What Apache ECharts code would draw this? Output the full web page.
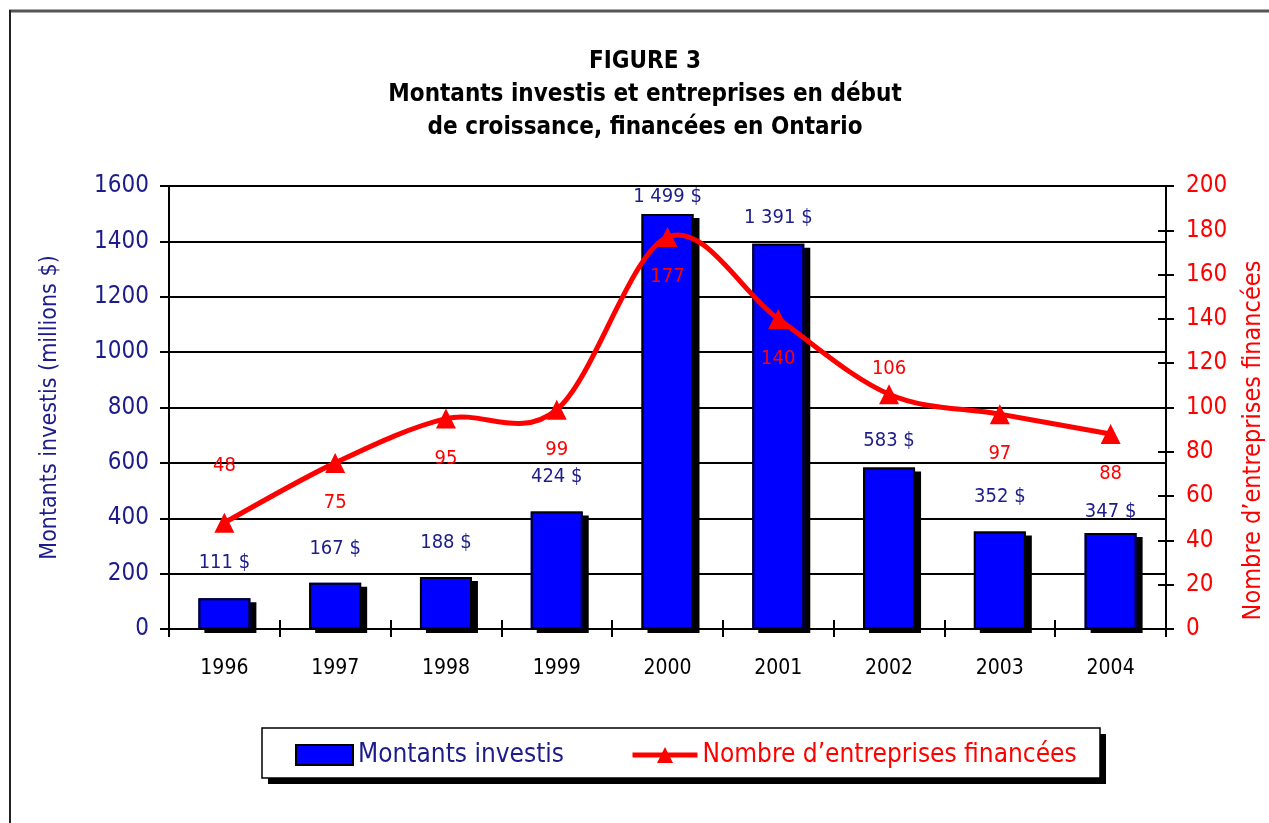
<!DOCTYPE html>
<html><head><meta charset="utf-8">
<script src="https://cdn.jsdelivr.net/npm/echarts@6/dist/echarts.min.js"></script>
<style>html,body{margin:0;padding:0;background:#fff}#c{width:1269px;height:823px}</style>
</head><body><div id="c"></div>
<script>
var years = ['1996','1997','1998','1999','2000','2001','2002','2003','2004'];
var montants = [111,167,188,424,1499,1391,583,352,347];
var entreprises = [48,75,95,99,177,140,106,97,88];
var leftTicks = [0,200,400,600,800,1000,1200,1400,1600];
var rightTicks = [0,20,40,60,80,100,120,140,160,180,200];

var FONT = '"DejaVu Sans Condensed", "DejaVu Sans", sans-serif';
var NAVY = '#1c1c8a';
var RED = '#ff0000';
var barLabelDist = [25,24,24,25,7,16,17,25,11];
var lineLabelPos = ['top','bottom','bottom','bottom','bottom','bottom','top','bottom','bottom'];
var lineLabelDist = [37,20,20,20,20,20,5,20,20];

function fmt(v){ return String(v).replace(/\B(?=(\d{3})+(?!\d))/g,' ') + ' $'; }

var barData = montants.map(function(v,i){
  return {value:v, label:{distance:barLabelDist[i]}};
});
var lineData = entreprises.map(function(v,i){
  return {value:v, label:{position:lineLabelPos[i], distance:lineLabelDist[i]}};
});
var curveData = entreprises.map(function(v,i){ return [i, v]; });

// Excel-style smoothed curve (Catmull-Rom through the data points, via axis scales)
function renderCurve(params, api){
  if (params.dataIndex !== 0) return null;
  var pts = curveData.map(function(d){ return api.coord(d); });
  var n = pts.length, d = 'M' + pts[0][0] + ' ' + pts[0][1];
  for (var i = 0; i < n - 1; i++){
    var p0 = pts[Math.max(i-1,0)], p1 = pts[i], p2 = pts[i+1], p3 = pts[Math.min(i+2,n-1)];
    var c1x = p1[0] + (p2[0]-p0[0])/6, c1y = p1[1] + (p2[1]-p0[1])/6;
    var c2x = p2[0] - (p3[0]-p1[0])/6, c2y = p2[1] - (p3[1]-p1[1])/6;
    d += ' C' + c1x + ' ' + c1y + ' ' + c2x + ' ' + c2y + ' ' + p2[0] + ' ' + p2[1];
  }
  return {type:'path', shape:{pathData:d}, style:{fill:null, stroke:RED, lineWidth:5, lineJoin:'round'}};
}

var chart = echarts.init(document.getElementById('c'));
chart.setOption({
  animation:false,
  backgroundColor:'#fff',
  title:{
    text:'FIGURE 3\nMontants investis et entreprises en début\nde croissance, financées en Ontario',
    left:640, top:40, textAlign:'center',
    textStyle:{fontFamily:FONT,fontWeight:'bold',fontSize:24,lineHeight:33,color:'#000'}
  },
  graphic:[
    {type:'line',shape:{x1:9,y1:11,x2:1269,y2:11},style:{stroke:'#555',lineWidth:3}},
    {type:'line',shape:{x1:10,y1:10,x2:10,y2:823},style:{stroke:'#222',lineWidth:2}},
    {type:'rect',shape:{x:268,y:734,width:838,height:50},style:{fill:'#000'},z:-1},
    {type:'rect',shape:{x:262,y:728,width:838,height:50},style:{fill:'#fff',stroke:'#000',lineWidth:1.5},z:-1}
  ],
  legend:[
    {data:['Montants investis'],left:295,top:742,padding:0,itemWidth:57,itemHeight:20,itemGap:10,icon:'rect',
     textStyle:{fontFamily:FONT,fontSize:26,color:NAVY},
     itemStyle:{color:'#0000ff',shadowOffsetX:0,shadowOffsetY:0,shadowColor:'rgba(0,0,0,0)',borderWidth:2,borderColor:'#000'}},
    {data:['Nombre d’entreprises financées'],left:630,top:742,padding:0,itemWidth:65,itemHeight:20,itemGap:6,
     textStyle:{fontFamily:FONT,fontSize:26,color:RED},
     lineStyle:{width:5,color:RED,opacity:1}}
  ],
  grid:{left:169,right:103,top:186,bottom:194,outerBoundsMode:'none',containLabel:false},
  xAxis:[
    {type:'category',data:years,position:'bottom',
     axisLine:{lineStyle:{color:'#000',width:2}},
     axisTick:{show:true,length:8,lineStyle:{color:'#000',width:2}},
     axisLabel:{fontFamily:FONT,fontSize:21,color:'#000',margin:29}},
    {type:'category',data:years,position:'bottom',
     axisLine:{show:false},
     axisTick:{show:true,inside:true,length:9,lineStyle:{color:'#000',width:2}},
     axisLabel:{show:false}}
  ],
  yAxis:[
    {type:'value',min:leftTicks[0],max:leftTicks[leftTicks.length-1],interval:200,position:'left',
     name:'Montants investis (millions $)',nameLocation:'middle',nameGap:107,nameRotate:90,
     nameTextStyle:{fontFamily:FONT,fontSize:23,color:NAVY},
     axisLine:{show:true,lineStyle:{color:'#000',width:2}},
     axisTick:{show:true,length:9,lineStyle:{color:'#000',width:2}},
     axisLabel:{fontFamily:FONT,fontSize:24,color:NAVY,margin:20,formatter:function(v){return String(v);}},
     splitLine:{show:true,lineStyle:{color:'#000',width:2}}},
    {type:'value',min:rightTicks[0],max:rightTicks[rightTicks.length-1],interval:20,position:'right',
     name:'Nombre d’entreprises financées',nameLocation:'middle',nameGap:75,nameRotate:90,
     nameTextStyle:{fontFamily:FONT,fontSize:25,color:RED,padding:[0,66,0,0]},
     axisLine:{show:true,lineStyle:{color:'#000',width:2}},
     axisTick:{show:true,length:8,lineStyle:{color:'#000',width:2}},
     axisLabel:{fontFamily:FONT,fontSize:24,color:RED,margin:20,formatter:function(v){return String(v);}},
     splitLine:{show:false}},
    {type:'value',min:rightTicks[0],max:rightTicks[rightTicks.length-1],interval:20,position:'right',
     axisLine:{show:false},
     axisTick:{show:true,inside:true,length:8,lineStyle:{color:'#000',width:2}},
     axisLabel:{show:false},splitLine:{show:false}}
  ],
  series:[
    {name:'Montants investis',type:'bar',yAxisIndex:0,barWidth:52,data:barData,
     itemStyle:{color:'#0000ff',borderWidth:0,shadowColor:'#000',shadowBlur:0,shadowOffsetX:6,shadowOffsetY:4},
     label:{show:true,position:'top',formatter:function(p){return fmt(p.value);},
       fontFamily:FONT,fontSize:20,color:NAVY}},
    {name:'contour',type:'bar',yAxisIndex:0,barWidth:52,barGap:'-100%',data:montants,silent:true,
     itemStyle:{color:'rgba(0,0,0,0)',borderColor:'#000',borderWidth:2},z:3},
    {name:'courbe',type:'custom',yAxisIndex:1,data:curveData,renderItem:renderCurve,silent:true,z:4},
    {name:'Nombre d’entreprises financées',type:'line',yAxisIndex:1,data:lineData,
     symbol:'triangle',symbolSize:20,
     lineStyle:{color:RED,width:5,opacity:0},itemStyle:{color:RED},
     label:{show:true,fontFamily:FONT,fontSize:20,color:RED},z:5}
  ]
});
</script></body></html>
